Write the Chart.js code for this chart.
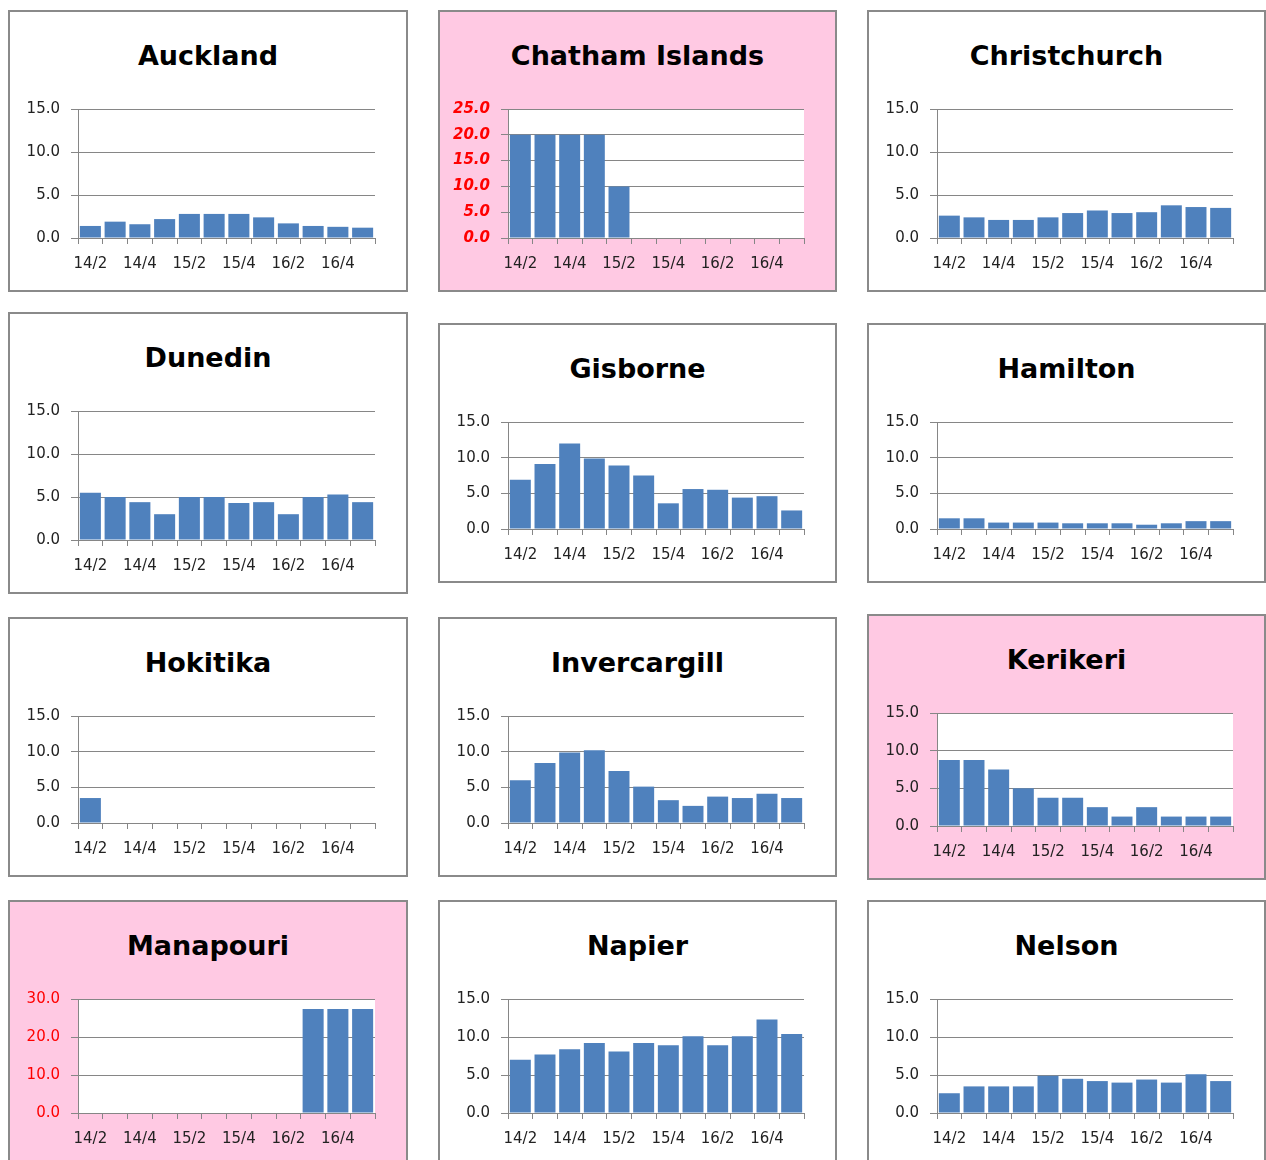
<!DOCTYPE html>
<html>
<head>
<meta charset="utf-8">
<title>Regional panels</title>
<script src="https://cdn.jsdelivr.net/npm/chart.js@4.4.1/dist/chart.umd.min.js"></script>
<style>
  body { margin: 0; width: 1266px; height: 1160px; background: #fff; overflow: hidden; position: relative; }
  .panel { position: absolute; box-sizing: border-box; border: 2px solid #8a8a8a; background: #fff; }
  .panel.pink { background: #ffc9e3; }
  .panel h2 { position: absolute; left: 0; right: 0; top: 27px; margin: 0; text-align: center;
              font: bold 27px 'DejaVu Sans', sans-serif; line-height: 34px; color: #000; }
  .panel .wrap { position: absolute; left: 0; top: 0; right: 0; bottom: 0; }
</style>
</head>
<body>
<script>
// --- data (quarters, values) ---
const quarters = ['14/2', '14/3', '14/4', '15/1', '15/2', '15/3', '15/4', '16/1', '16/2', '16/3', '16/4', '17/1'];
const shownLabels = ['14/2', '14/4', '15/2', '15/4', '16/2', '16/4'];

const auckland     = [1.4, 1.9, 1.6, 2.2, 2.8, 2.8, 2.8, 2.4, 1.7, 1.4, 1.3, 1.2];
const chatham      = [20, 20, 20, 20, 10, null, null, null, null, null, null, null];
const christchurch = [2.6, 2.4, 2.1, 2.1, 2.4, 2.9, 3.2, 2.9, 3.0, 3.8, 3.6, 3.5];
const dunedin      = [5.5, 5.0, 4.4, 3.0, 5.0, 5.0, 4.3, 4.4, 3.0, 5.0, 5.3, 4.4];
const gisborne     = [6.9, 9.1, 12.0, 9.9, 8.9, 7.5, 3.6, 5.6, 5.5, 4.4, 4.6, 2.6];
const hamilton     = [1.5, 1.5, 0.9, 0.9, 0.9, 0.8, 0.8, 0.8, 0.6, 0.8, 1.1, 1.1];
const hokitika     = [3.5, null, null, null, null, null, null, null, null, null, null, null];
const invercargill = [6.0, 8.4, 9.9, 10.2, 7.3, 5.1, 3.2, 2.4, 3.7, 3.5, 4.1, 3.5];
const kerikeri     = [8.75, 8.75, 7.5, 5.0, 3.75, 3.75, 2.5, 1.25, 2.5, 1.25, 1.25, 1.25];
const manapouri    = [null, null, null, null, null, null, null, null, null, 27.4, 27.4, 27.4];
const napier       = [7.0, 7.7, 8.4, 9.2, 8.1, 9.2, 8.9, 10.1, 8.9, 10.1, 12.3, 10.4];
const nelson       = [2.6, 3.5, 3.5, 3.5, 4.9, 4.5, 4.2, 4.0, 4.4, 4.0, 5.1, 4.2];

// --- layout: one box per station ---
const panels = [
    { name: 'Auckland',        data: auckland,     x: 8,   y: 10,  w: 400, h: 282, max: 15, step: 5 },
    { name: 'Chatham Islands', data: chatham,      x: 438, y: 10,  w: 399, h: 282, max: 25, step: 5,  pink: true, tick: 'chatham' },
    { name: 'Christchurch',    data: christchurch, x: 867, y: 10,  w: 399, h: 282, max: 15, step: 5 },
    { name: 'Dunedin',         data: dunedin,      x: 8,   y: 312, w: 400, h: 282, max: 15, step: 5 },
    { name: 'Gisborne',        data: gisborne,     x: 438, y: 323, w: 399, h: 260, max: 15, step: 5 },
    { name: 'Hamilton',        data: hamilton,     x: 867, y: 323, w: 399, h: 260, max: 15, step: 5 },
    { name: 'Hokitika',        data: hokitika,     x: 8,   y: 617, w: 400, h: 260, max: 15, step: 5 },
    { name: 'Invercargill',    data: invercargill, x: 438, y: 617, w: 399, h: 260, max: 15, step: 5 },
    { name: 'Kerikeri',        data: kerikeri,     x: 867, y: 614, w: 399, h: 266, max: 15, step: 5,  pink: true },
    { name: 'Manapouri',       data: manapouri,    x: 8,   y: 900, w: 400, h: 267, max: 30, step: 10, pink: true, tick: 'manapouri' },
    { name: 'Napier',          data: napier,       x: 438, y: 900, w: 399, h: 267, max: 15, step: 5 },
    { name: 'Nelson',          data: nelson,       x: 867, y: 900, w: 399, h: 267, max: 15, step: 5 }
];

const GRID = '#868686';
const TEXT = '#222';

// white plot area (shows on the pink panels)
const plotBg = {
    id: 'plotBg',
    beforeDraw(chart) {
        const a = chart.chartArea, c = chart.ctx;
        c.save();
        c.fillStyle = '#fff';
        c.fillRect(a.left, a.top, a.right - a.left, a.bottom - a.top);
        c.restore();
    }
};

function yTickStyle(kind) {
    if (kind === 'chatham') return { color: '#ff0000', font: { family: "'DejaVu Sans', sans-serif", size: 15, weight: 'bold', style: 'italic' } };
    if (kind === 'manapouri') return { color: '#ff0000', font: { family: "'DejaVu Sans', sans-serif", size: 15 } };
    return { color: TEXT, font: { family: "'DejaVu Sans', sans-serif", size: 15 } };
}

panels.forEach(p => {
    const box = document.createElement('div');
    box.className = 'panel' + (p.pink ? ' pink' : '');
    box.style.left = p.x + 'px';
    box.style.top = p.y + 'px';
    box.style.width = p.w + 'px';
    box.style.height = p.h + 'px';
    box.innerHTML = `<h2>${p.name}</h2><div class="wrap"><canvas></canvas></div>`;
    document.body.appendChild(box);

    const yStyle = yTickStyle(p.tick);

    new Chart(box.querySelector('canvas'), {
        type: 'bar',
        data: {
            labels: quarters,
            datasets: [{
                data: p.data,
                backgroundColor: '#4f81bd',
                borderWidth: 0,
                categoryPercentage: 1,
                barPercentage: 0.85
            }]
        },
        options: {
            responsive: true,
            maintainAspectRatio: false,
            animation: false,
            layout: { padding: { left: 0, top: 97, right: 31, bottom: 0 } },
            plugins: { legend: { display: false }, tooltip: { enabled: false } },
            scales: {
                x: {
                    offset: true,
                    afterFit: s => { s.height = 52; },
                    grid: { offset: true, drawOnChartArea: false, drawTicks: true, tickLength: 6, color: GRID },
                    border: { display: true, color: GRID },
                    ticks: {
                        autoSkip: false,
                        maxRotation: 0,
                        padding: 11,
                        color: TEXT,
                        font: { family: "'DejaVu Sans', sans-serif", size: 15 },
                        callback: (v, i) => shownLabels.includes(quarters[i]) ? quarters[i] : ''
                    }
                },
                y: {
                    min: 0,
                    max: p.max,
                    afterFit: s => { s.width = 68; },
                    grid: { color: GRID, tickLength: 7 },
                    border: { display: true, color: GRID },
                    ticks: {
                        stepSize: p.step,
                        padding: 11,
                        color: yStyle.color,
                        font: yStyle.font,
                        callback: v => Number(v).toFixed(1)
                    }
                }
            }
        },
        plugins: [plotBg]
    });
});
</script>
</body>
</html>
